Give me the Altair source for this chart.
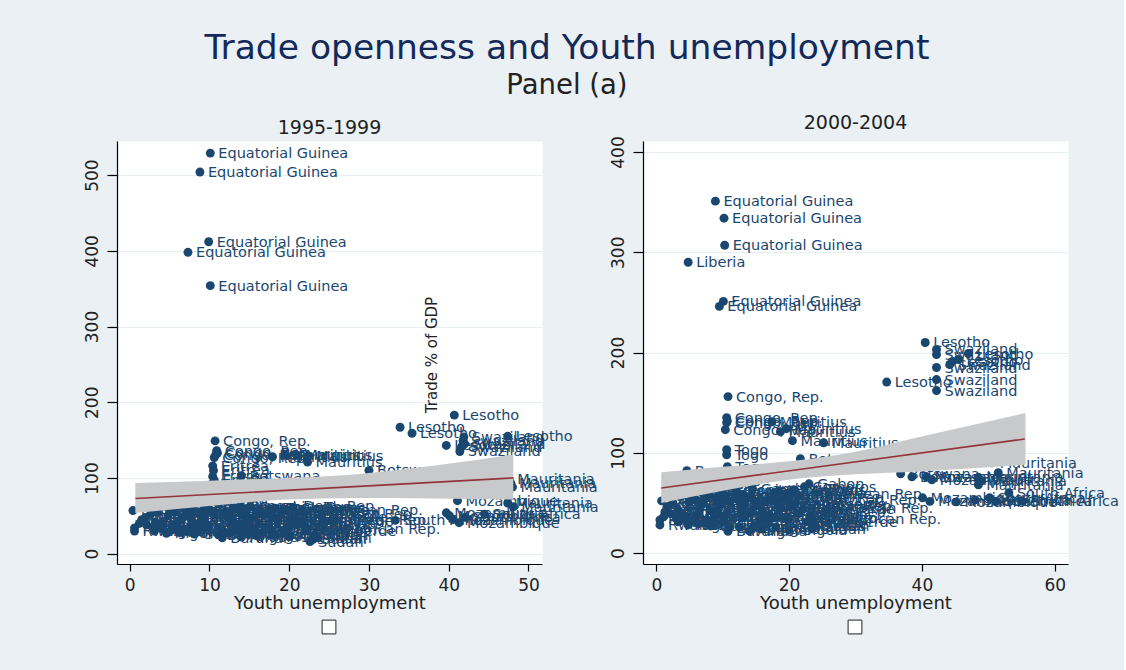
import altair as alt
import pandas as pd

# ---------------- data: panel 1995-1999 ----------------
p1_name = ["Equatorial Guinea"] * 5 + ["Lesotho"] * 5 + ["Swaziland"] * 5 + ["Congo, Rep."] * 5 + \
    ["Mauritius"] * 5 + ["Eritrea"] * 5 + ["Botswana"] * 5 + ["Mauritania"] * 5 + ["Mozambique"] * 5 + \
    ["South Africa"] * 3 + ["Sudan"] * 4 + ["Rwanda"] * 2 + ["Burundi"] * 3 + ["Cameroon"] + \
    ["Benin"] * 3 + ["Burkina Faso"] * 2 + ["Madagascar"] * 2 + ["Uganda"] * 2 + ["Ghana"] * 3 + \
    ["Tanzania"] * 2 + ["Mali"] * 2 + ["Niger"] * 2 + ["Kenya"] * 3 + ["Gambia, The"] * 3 + ["Togo"] * 2 + \
    ["Congo, Dem. Rep."] * 5 + ["Senegal"] * 3 + ["Zambia"] * 3 + ["Zimbabwe"] * 2 + ["Ethiopia"] * 3 + \
    ["Guinea"] * 2 + ["Côte d'Ivoire"] * 3 + ["Malawi"] * 2 + ["Chad", "Comoros", "Gabon"] + \
    ["Nigeria"] * 4 + ["Sierra Leone"] * 4 + ["Guinea-Bissau"] * 4 + ["Central African Rep."] * 4 + \
    ["Cape Verde"] * 4 + ["Angola"] * 8
p1_x = [10.1, 8.8, 9.9, 7.3, 10.1,
        40.7, 33.9, 35.4, 39.7, 47.4,
        41.9, 41.8, 41.6, 41.4, 42.0,
        10.7, 10.9, 10.8, 10.6, 11.0,
        19.5, 21.0, 22.4, 22.3, 17.9,
        10.4, 10.5, 10.4, 10.6, 10.3,
        14.0, 30.0, 31.5, 28.5, 32.5,
        47.6, 47.8, 48.0, 47.4, 48.1,
        41.1, 39.7, 40.1, 40.5, 41.3,
        33.3, 42.0, 44.5,
        23.2, 22.6, 23.6, 23.0,
        0.6, 0.6,
        11.6, 11.2, 11.9,
        0.4,
        1.5, 2.6, 3.2, 3.6, 4.2, 5.0, 5.6, 6.1, 6.6, 7.1, 7.6, 8.1,
        8.6, 9.1, 5.2, 6.2, 3.1, 4.6, 12.0, 13.0, 12.5, 14.2, 15.1, 16.0, 11.1, 12.1,
        13.5, 14.0, 14.5, 13.8, 15.0, 16.2, 17.1, 18.0, 19.0, 20.1, 21.0, 18.2, 19.6,
        9.6, 10.1, 10.6, 7.2, 8.1, 15.6, 16.6, 17.5, 2.1, 2.9, 1.2, 20.5, 21.5,
        2.0, 3.5, 4.8, 5.8, 6.8, 7.8, 8.8, 9.3, 12.8, 13.2, 14.8, 15.6,
        16.8, 17.6, 18.6, 19.8, 20.8, 21.6, 22.0, 6.0,
        4.0, 8.5, 9.8, 12.4, 14.0, 16.0, 18.0, 20.0]
p1_y = [529, 504, 412, 398, 354,
        183, 167, 159, 143, 155,
        154, 149, 141, 135, 145,
        149, 136, 131, 127, 133,
        130, 130, 129, 121, 128,
        116, 110, 102, 97, 92,
        103, 110, 96, 90, 85,
        98, 93, 88, 67, 62,
        70, 54, 50, 45, 41,
        44, 48, 52,
        25, 16, 21, 19,
        34, 30,
        21, 25, 28,
        57,
        45, 52, 42, 37, 40, 58, 55, 43, 48, 52, 47, 37,
        34, 41, 31, 28, 30, 27, 55, 60, 49, 58, 62, 55, 66, 69,
        31, 39, 54, 63, 45, 40, 36, 48, 52, 44, 38, 60, 58,
        62, 57, 51, 30, 26, 32, 28, 34, 38, 35, 40, 61, 56,
        48, 55, 50, 62, 60, 58, 55, 49, 42, 36, 26, 48,
        52, 58, 44, 33, 48, 43, 30, 36,
        33, 30, 36, 27, 22, 24, 26, 23]

p1_fit_x = [0.7, 48.1]
p1_fit_y = [72.8, 100.1]
p1_band_x = [0.7, 10, 19.5, 28.5, 38, 48.1]
p1_band_lo = [53.8, 63, 71.5, 73.5, 73, 71.5]
p1_band_hi = [93.5, 96.5, 100, 105, 116, 131]

# ---------------- data: panel 2000-2004 ----------------
p2_name = ["Equatorial Guinea"] * 5 + ["Liberia"] + ["Lesotho"] * 5 + ["Swaziland"] * 6 + ["Congo, Rep."] * 5 + \
    ["Mauritius"] * 5 + ["Togo"] * 5 + ["Botswana"] * 3 + ["Mozambique"] * 5 + ["Mauritania"] * 5 + \
    ["South Africa"] * 5 + ["Sudan"] * 4 + ["Rwanda"] * 2 + ["Burundi"] * 2 + ["Gambia, The"] * 3 + \
    ["Congo, Dem. Rep."] * 4 + ["Cameroon"] * 2 + ["Benin"] * 3 + ["Burkina Faso"] * 2 + ["Madagascar"] * 2 + \
    ["Uganda"] * 2 + ["Ghana"] * 2 + ["Tanzania"] * 2 + ["Mali"] * 2 + ["Niger"] * 2 + ["Kenya"] * 2 + \
    ["Senegal"] * 3 + ["Zambia"] * 3 + ["Zimbabwe"] * 2 + ["Ethiopia"] * 3 + ["Guinea"] * 2 + \
    ["Côte d'Ivoire"] * 3 + ["Malawi"] * 2 + ["Chad"] + ["Comoros"] * 2 + ["Gabon"] * 2 + \
    ["Nigeria"] * 5 + ["Sierra Leone"] * 4 + ["Guinea-Bissau"] * 4 + ["Central African Rep."] * 4 + \
    ["Cape Verde"] * 4 + ["Angola"] * 8
p2_x = [8.9, 10.2, 10.3, 10.1, 9.5,
        4.8,
        40.5, 47.0, 44.6, 34.7, 45.5,
        42.2, 42.2, 44.2, 42.2, 42.2, 42.2,
        10.8, 10.6, 10.6, 10.4, 10.7,
        17.4, 18.7, 19.6, 20.5, 25.2,
        10.6, 10.6, 10.7, 10.8, 11.0,
        21.7, 36.8, 38.5,
        40.7, 41.5, 40.1, 41.2, 45.2,
        48.5, 48.5, 50.5, 49.0, 51.5,
        53.1, 50.2, 51.2, 55.2, 48.0,
        23.2, 23.2, 23.5, 24.0,
        0.55, 0.55,
        10.8, 11.0,
        12.0, 13.0, 14.5,
        14.0, 14.3, 13.0, 15.2,
        0.8, 1.6, 4.6, 2.5, 3.2, 3.8, 4.5, 5.3, 6.0, 6.5, 7.0, 7.5, 8.2, 8.8, 9.3,
        5.4, 6.3, 3.3, 4.8, 12.3, 13.2, 16.0, 17.0, 18.2, 19.2, 20.2, 21.2, 18.4, 19.8,
        9.7, 10.2, 10.7, 7.3, 8.2, 15.8, 16.8, 17.6, 2.2, 3.0, 1.3, 20.7, 22.3, 21.6, 23.0,
        2.0, 3.6, 4.9, 5.9, 1.1, 6.9, 7.9, 8.9, 9.4, 12.9, 13.4, 14.9, 15.7,
        16.9, 17.7, 18.7, 19.9, 20.9, 22.1, 22.6, 6.1,
        4.1, 8.6, 9.9, 12.5, 14.0, 16.0, 18.0, 20.0]
p2_y = [351, 334, 307, 251, 246,
        290,
        210, 199, 191, 170.5, 193,
        203, 198, 188, 185, 173, 162,
        156, 135, 130, 123, 132,
        131, 121, 124, 112, 110,
        103, 98, 86, 80, 75,
        94, 79, 76,
        76, 73, 55, 51.5, 51,
        75.5, 68, 90, 72, 80,
        60, 55, 51.5, 51.5, 53,
        38, 30, 24, 27,
        33, 28,
        21.6, 25,
        62, 58, 64,
        55, 41, 35, 47,
        52, 46, 82, 50, 44, 40, 36, 57, 53, 45, 49, 55, 42, 36, 44,
        32, 29, 31, 28, 53, 48, 42, 38, 50, 55, 46, 40, 62, 59,
        63, 58, 52, 30, 27, 33, 29, 35, 39, 36, 41, 63, 66, 57, 69,
        47, 56, 51, 62, 36, 60, 58, 55, 49, 43, 37, 27, 49,
        53, 59, 45, 34, 49, 44, 31, 37,
        34, 31, 37, 26, 22, 24, 26, 23]

p2_fit_x = [0.75, 55.5]
p2_fit_y = [64.8, 113.7]
p2_band_x = [0.75, 10, 20, 30, 39.8, 55.6]
p2_band_lo = [49.8, 62, 73.1, 78.5, 81.4, 88]
p2_band_hi = [80.5, 86, 91.4, 101, 116, 139.6]

NAVY = "#1A476F"
MAROON = "#90353B"
BAND = "#C8C9CB"
FONT = "DejaVu Sans"


def panel(title, names, xs, ys, fx, fy, bx, blo, bhi, xdom, ydom, xticks, yticks, ytitle=False):
    pts = pd.DataFrame({"name": names, "x": xs, "y": ys})
    fit = pd.DataFrame({"x": fx, "y": fy})
    band = pd.DataFrame({"x": bx, "y": blo, "y2": bhi})
    xe = alt.X("x:Q", scale=alt.Scale(domain=xdom, nice=False, zero=False),
               axis=alt.Axis(values=xticks, title="Youth unemployment", grid=False,
                             tickSize=7, labelPadding=6, titlePadding=1))
    ye = alt.Y("y:Q", scale=alt.Scale(domain=ydom, nice=False, zero=False),
               axis=alt.Axis(values=yticks, title=None, grid=True, tickSize=10, labelPadding=6,
                             labelAngle=270, labelAlign="center", labelBaseline="bottom"))
    dots = alt.Chart(pts).mark_circle(size=80, color=NAVY, opacity=1).encode(x=xe, y=ye)
    labs = alt.Chart(pts).mark_text(align="left", baseline="middle", dx=8, dy=1, font=FONT,
                                    fontSize=14.5, color=NAVY).encode(x=xe, y=ye, text="name:N")
    area = alt.Chart(band).mark_area(color=BAND, opacity=1, interpolate="monotone").encode(
        x=xe, y=ye, y2="y2:Q")
    line = alt.Chart(fit).mark_line(color=MAROON, strokeWidth=1.6).encode(x=xe, y=ye)
    sq = alt.Chart(pd.DataFrame({"k": [0]})).mark_point(
        shape="square", filled=True, fill="white", stroke="#222", strokeWidth=1, size=190, opacity=1
    ).encode(x=alt.value(212), y=alt.value(486))
    layers = [dots, labs, area, line, sq]
    if ytitle:
        yt = alt.Chart(pd.DataFrame({"t": ["Trade % of GDP"]})).mark_text(
            angle=270, font=FONT, fontSize=15, color="#222", align="center", baseline="middle"
        ).encode(x=alt.value(315), y=alt.value(214), text="t:N")
        layers.append(yt)
    return alt.layer(*layers).properties(
        width=425, height=423,
        title=alt.TitleParams(title, font=FONT, fontSize=19, fontWeight="normal", color="#222", offset=3))


left = panel("1995-1999", p1_name, p1_x, p1_y, p1_fit_x, p1_fit_y, p1_band_x, p1_band_lo, p1_band_hi,
             [-1.6, 51.7], [-13.6, 545], [0, 10, 20, 30, 40, 50], [0, 100, 200, 300, 400, 500], ytitle=True)
right = panel("2000-2004", p2_name, p2_x, p2_y, p2_fit_x, p2_fit_y, p2_band_x, p2_band_lo, p2_band_hi,
              [-2, 62], [-11, 411], [0, 20, 40, 60], [0, 100, 200, 300, 400])

chart = alt.hconcat(left, right, spacing=101, bounds="flush").properties(
    title=alt.TitleParams("Trade openness and Youth unemployment", subtitle="Panel (a)",
                          font=FONT, fontSize=34.5, fontWeight="normal", color="#13295A",
                          subtitleFont=FONT, subtitleFontSize=27.5, subtitleColor="#222",
                          subtitlePadding=5, anchor="middle", offset=13, dx=-34),
    padding={"left": 82, "top": 31, "right": 4, "bottom": 34},
    background="#EAF0F3",
).configure_view(fill="white", stroke="transparent").configure_axis(
    domainColor="#000", tickColor="#000", labelColor="#222", titleColor="#222",
    labelFont=FONT, titleFont=FONT, labelFontSize=17, titleFontSize=18, titleFontWeight="normal",
    domainWidth=1.2, tickWidth=1.2, gridColor="#E6EEF1", gridWidth=1.2)

chart.save("out.html", embed_options={"renderer": "svg", "actions": False})
